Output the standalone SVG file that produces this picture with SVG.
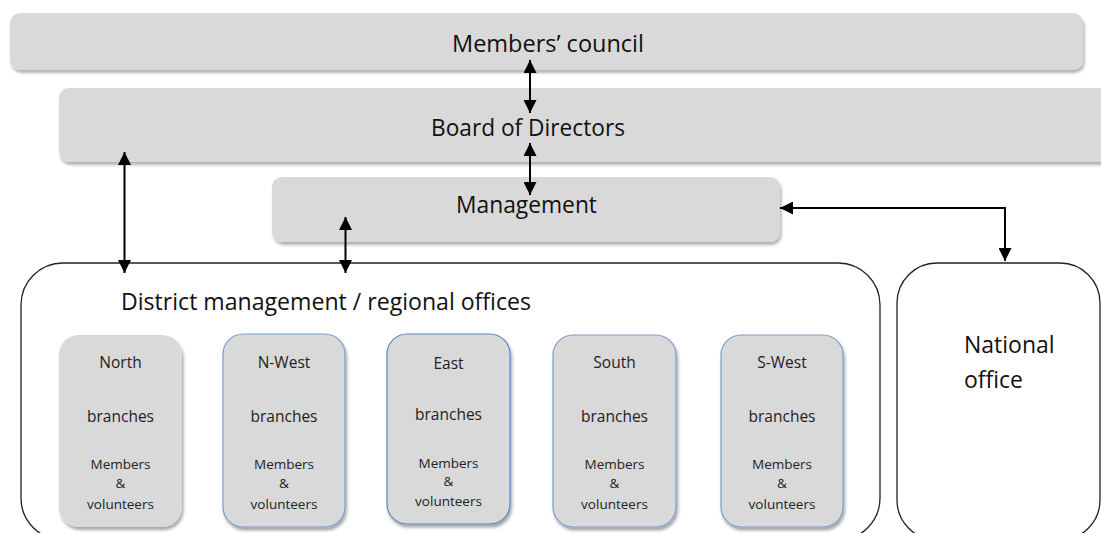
<svg xmlns="http://www.w3.org/2000/svg" width="1101" height="533" viewBox="0 0 1101 533">
<style>
.box{fill:#d9d9d9;filter:url(#sh);}
.sub{fill:#d9d9d9;filter:url(#sh2);}
.blue{stroke:#7b9dd0;stroke-width:1.2;}
.frame{fill:#fff;stroke:#222;stroke-width:1.3;}
.big{font-family:"Open Sans","Noto Sans",sans-serif;font-size:23px;fill:#111;}
.t1{font-family:"Open Sans","Noto Sans",sans-serif;font-size:15.5px;fill:#222;text-anchor:middle;}
.t2{font-family:"Open Sans","Noto Sans",sans-serif;font-size:13.5px;fill:#222;text-anchor:middle;}
.arr{fill:none;stroke:#000;stroke-width:2;marker-start:url(#ah);marker-end:url(#ah);}
</style>
<defs>
<filter id="sh" x="-5%" y="-20%" width="110%" height="150%">
<feDropShadow dx="1.5" dy="3" stdDeviation="1.5" flood-color="#000" flood-opacity="0.3"/>
</filter>
<filter id="sh2" x="-10%" y="-10%" width="125%" height="125%">
<feDropShadow dx="1.5" dy="3" stdDeviation="1.5" flood-color="#000" flood-opacity="0.35"/>
</filter>
<marker id="ah" markerUnits="userSpaceOnUse" markerWidth="13" markerHeight="13" viewBox="0 0 13 13" refX="13" refY="6.5" orient="auto-start-reverse">
<path d="M0,0 L13,6.5 L0,13 z" fill="#000"/>
</marker>
</defs>

<g id="members-council">
<rect class="box" x="10" y="13" width="1073" height="57" rx="10"/>
<text class="big" x="452" y="52" textLength="192" lengthAdjust="spacingAndGlyphs">Members’ council</text>
</g>
<g id="board">
<rect class="box" x="59" y="88" width="1060" height="74" rx="10"/>
<text class="big" x="431" y="136" textLength="194" lengthAdjust="spacingAndGlyphs">Board of Directors</text>
</g>
<g id="management">
<rect class="box" x="272" y="177" width="508" height="65" rx="10"/>
<text class="big" x="456" y="213" textLength="141" lengthAdjust="spacingAndGlyphs">Management</text>
</g>
<g id="district">
<rect class="frame" x="21" y="263" width="859" height="277" rx="42"/>
<text class="big" x="121" y="310" textLength="410" lengthAdjust="spacingAndGlyphs">District management / regional offices</text>
</g>
<g id="national">
<rect class="frame" x="897" y="263" width="203" height="277" rx="40"/>
<text class="big" x="964" y="353" font-size="22.5">National</text>
<text class="big" x="964" y="388" font-size="22.5">office</text>
</g>

<g id="north">
<rect class="sub" x="59" y="335" width="123" height="192" rx="20"/>
<text class="t1" x="120.5" y="368">North</text>
<text class="t1" x="120.5" y="422">branches</text>
<text class="t2" x="120.5" y="469">Members</text>
<text class="t2" x="120.5" y="488">&amp;</text>
<text class="t2" x="120.5" y="509">volunteers</text>
</g>
<g id="nwest">
<rect class="sub blue" x="223" y="334" width="122" height="193" rx="20"/>
<text class="t1" x="284" y="368">N-West</text>
<text class="t1" x="284" y="422">branches</text>
<text class="t2" x="284" y="469">Members</text>
<text class="t2" x="284" y="488">&amp;</text>
<text class="t2" x="284" y="509">volunteers</text>
</g>
<g id="east">
<rect class="sub blue" x="387" y="334" width="123" height="190" rx="20" style="stroke:#5f86c0"/>
<text class="t1" x="448.5" y="369">East</text>
<text class="t1" x="448.5" y="420">branches</text>
<text class="t2" x="448.5" y="468">Members</text>
<text class="t2" x="448.5" y="486">&amp;</text>
<text class="t2" x="448.5" y="506">volunteers</text>
</g>
<g id="south">
<rect class="sub blue" x="553" y="335" width="123" height="192" rx="20"/>
<text class="t1" x="614.5" y="368">South</text>
<text class="t1" x="614.5" y="422">branches</text>
<text class="t2" x="614.5" y="469">Members</text>
<text class="t2" x="614.5" y="488">&amp;</text>
<text class="t2" x="614.5" y="509">volunteers</text>
</g>
<g id="swest">
<rect class="sub blue" x="721" y="335" width="122" height="192" rx="20"/>
<text class="t1" x="782" y="368">S-West</text>
<text class="t1" x="782" y="422">branches</text>
<text class="t2" x="782" y="469">Members</text>
<text class="t2" x="782" y="488">&amp;</text>
<text class="t2" x="782" y="509">volunteers</text>
</g>

<g id="connectors">
<path class="arr" d="M530,60 L530,113"/>
<path class="arr" d="M530,143 L530,195"/>
<path class="arr" d="M124.5,152 L124.5,273"/>
<path class="arr" d="M345.5,217 L345.5,273"/>
<path class="arr" d="M780,208 L1005,208 L1005,261"/>
</g>
</svg>
